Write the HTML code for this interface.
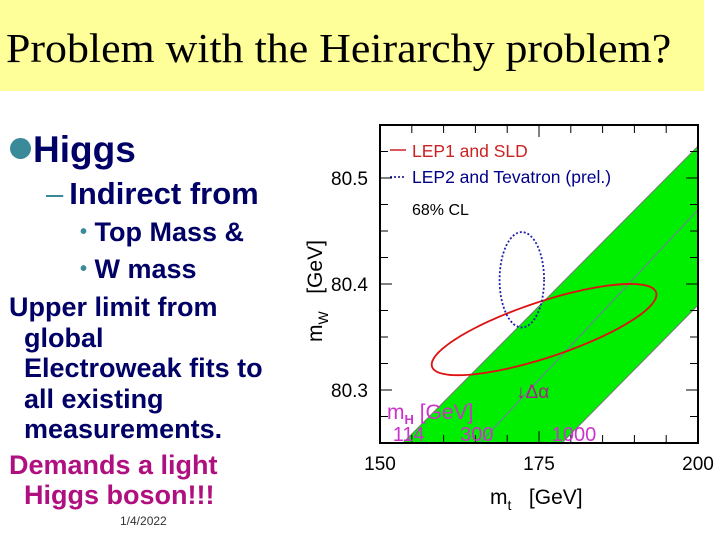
<!DOCTYPE html>
<html><head><meta charset="utf-8"><style>
body{margin:0;width:720px;height:540px;background:#fff;position:relative;overflow:hidden;font-family:"Liberation Sans",sans-serif}
.t{position:absolute;white-space:nowrap;font-weight:bold;color:#000066;line-height:1}
#title{position:absolute;left:0;top:0;width:704px;height:91px;background:#ffff99}
#title span{position:absolute;left:6px;top:24px;font-family:"Liberation Serif",serif;font-size:41px;color:#000;transform:scaleX(1.07);transform-origin:0 0}
</style></head><body>
<div id="title"><span>Problem with the Heirarchy problem?</span></div>
<div class="t" style="left:10px;top:138px;width:21px;height:21px;border-radius:50%;background:#3a8a9a"></div>
<div class="t" style="left:33px;top:131px;font-size:37px">Higgs</div>
<div class="t" style="left:46px;top:178px;font-size:31px;font-weight:normal"><span style="color:#3a8a9a">–</span><b style="margin-left:6px">Indirect from</b></div>
<div class="t" style="left:80px;top:219px;font-size:27px"><span style="color:#3a8a9a;font-size:20px;vertical-align:3px">•</span> Top Mass &amp;</div>
<div class="t" style="left:80px;top:256px;font-size:27px"><span style="color:#3a8a9a;font-size:20px;vertical-align:3px">•</span> W mass</div>
<div class="t" style="left:9px;top:292px;font-size:27px;line-height:30.5px">Upper limit from<br>&nbsp;&nbsp;global<br>&nbsp;&nbsp;Electroweak fits to<br>&nbsp;&nbsp;all existing<br>&nbsp;&nbsp;measurements.</div>
<div class="t" style="left:9px;top:450px;font-size:27px;line-height:30px;color:#b0107f">Demands a light<br>&nbsp;&nbsp;Higgs boson!!!</div>
<div class="t" style="left:120px;top:515px;font-size:12px;font-weight:normal;color:#333">1/4/2022</div>
<svg id="chart" width="720" height="540" style="position:absolute;left:0;top:0"></svg>
<script>
const xTicks=[150,175,200];
const yTicks=[80.3,80.4,80.5];
const bandLeft=[[153.6,80.25],[200,80.53]];
const bandRight=[[178.6,80.25],[200,80.38]];
const bandMid=[[165.7,80.25],[200,80.47]];
const redEll=[175.8,80.357,17.6,0.0354,1.6,0.0245];
const blueEll=[172.3,80.404,3.5,0.045];
const mhLabels=["114","300","1000"];
const mhX=[152,162.6,177];
const X0=380,X1=698,Y0=443,Y1=125;
const sx=v=>X0+(v-150)/50*(X1-X0);
const sy=v=>Y0-(v-80.25)/0.3*(Y0-Y1);
const svg=document.getElementById('chart');
const NS='http://www.w3.org/2000/svg';
function mk(t,a,txt){const e=document.createElementNS(NS,t);for(const k in a)e.setAttribute(k,a[k]);if(txt!==undefined)e.textContent=txt;svg.appendChild(e);return e;}
let cp=mk('clipPath',{id:'cp'});
const r=document.createElementNS(NS,'rect');r.setAttribute('x',X0);r.setAttribute('y',Y1);r.setAttribute('width',X1-X0);r.setAttribute('height',Y0-Y1);cp.appendChild(r);
const bl=bandLeft,br=bandRight;
let band=mk('polygon',{points:`${sx(bl[0][0])},${sy(bl[0][1])} ${sx(bl[1][0])},${sy(bl[1][1])} ${sx(br[1][0])},${sy(br[1][1])} ${sx(br[0][0])},${sy(br[0][1])}`,fill:'#00ee00',stroke:'#777','stroke-width':1,'clip-path':'url(#cp)'});


let mid=mk('line',{x1:sx(bandMid[0][0]),y1:sy(bandMid[0][1]),x2:sx(bandMid[1][0]),y2:sy(bandMid[1][1]),stroke:'#7777aa','stroke-width':1});


let pts=[];for(let i=0;i<=120;i++){const t=i/120*2*Math.PI;pts.push(sx(redEll[0]+redEll[2]*Math.cos(t)+redEll[4]*Math.sin(t))+','+sy(redEll[1]+redEll[3]*Math.cos(t)-redEll[5]*Math.sin(t)));}
let re=mk('polygon',{points:pts.join(' '),fill:'none',stroke:'#dd1111','stroke-width':1.8});


let be=mk('ellipse',{cx:sx(blueEll[0]),cy:sy(blueEll[1]),rx:sx(blueEll[0]+blueEll[2])-sx(blueEll[0]),ry:sy(blueEll[1])-sy(blueEll[1]+blueEll[3]),fill:'none',stroke:'#2222aa','stroke-width':1.8,'stroke-dasharray':'2,2'});


let fr=mk('rect',{x:X0,y:Y1,width:X1-X0,height:Y0-Y1,fill:'none',stroke:'#000','stroke-width':2});


for(let v=150;v<=200;v+=5){const x=sx(v),L=(v%25===0)?12:8;mk('line',{x1:x,y1:Y0,x2:x,y2:Y0-L,stroke:'#000'});mk('line',{x1:x,y1:Y1,x2:x,y2:Y1+L,stroke:'#000'});}
for(let k=0;k<=12;k++){const v=80.25+k*0.025,y=sy(v),L=(k%4===2)?12:8;mk('line',{x1:X0,y1:y,x2:X0+L,y2:y,stroke:'#000'});mk('line',{x1:X1,y1:y,x2:X1-L,y2:y,stroke:'#000'});}
xTicks.forEach(v=>{const e=mk('text',{x:sx(v),y:470,'text-anchor':'middle','font-size':19,fill:'#000'},String(v));});
yTicks.forEach(v=>{const e=mk('text',{x:368,y:sy(v)+7,'text-anchor':'end','font-size':19,fill:'#000'},v.toFixed(1));});
let xt=mk('text',{x:490,y:504,'font-size':21,fill:'#000'});xt.innerHTML='m<tspan font-size="14" dy="6">t</tspan><tspan dy="-6" xml:space="preserve">   [GeV]</tspan>';


let yt=mk('text',{x:0,y:0,'font-size':21,fill:'#000',transform:'translate(322,342) rotate(-90)'});yt.innerHTML='m<tspan font-size="14" dy="6">W</tspan><tspan dy="-6" xml:space="preserve">   [GeV]</tspan>';


let l1=mk('line',{x1:390,y1:150,x2:406,y2:150,stroke:'#cc2222','stroke-width':1.5});


let t1=mk('text',{x:412,y:157,'font-size':17.5,fill:'#cc2222'},'LEP1 and SLD');


let l2=mk('line',{x1:390,y1:177,x2:406,y2:177,stroke:'#000088','stroke-width':1.5,'stroke-dasharray':'2,2'});


let t2=mk('text',{x:412,y:183,'font-size':17.5,fill:'#000088'},'LEP2 and Tevatron (prel.)');


let t3=mk('text',{x:412,y:215,'font-size':16,fill:'#000'},'68% CL');


let da=mk('text',{x:516,y:398,'font-size':19,fill:'#aa2288'},'↓Δα');


let mh=mk('text',{x:387,y:419,'font-size':21,fill:'#cc33cc'});mh.innerHTML='m<tspan font-size="13" dy="5" font-weight="bold">H</tspan><tspan dy="-5"> [GeV]</tspan>';


mhLabels.forEach((s,i)=>{const e=mk('text',{x:sx(mhX[i]),y:441,'font-size':20,fill:'#cc33cc'},s);});
</script>
</body></html>
